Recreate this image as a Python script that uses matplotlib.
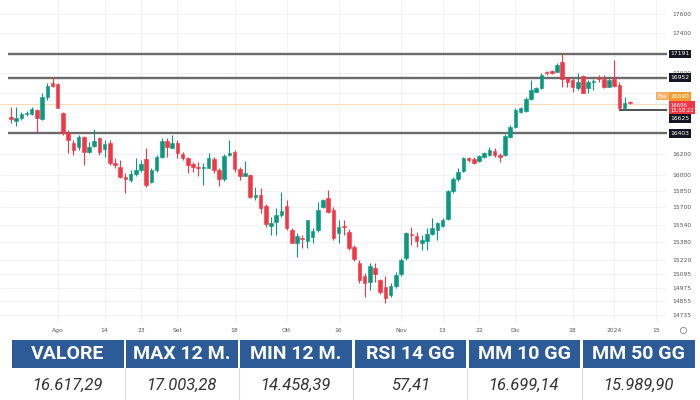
import numpy as np
import matplotlib.pyplot as plt
from matplotlib.patches import Rectangle
from matplotlib.lines import Line2D
from matplotlib.ticker import NullLocator
from matplotlib.transforms import blended_transform_factory

# candele giornaliere (indice di seduta)
opens = [16564, 16525, 16549, 16588, 16588, 16630, 16542, 16756, 16895, 16885,
         16604, 16403, 16312, 16268, 16370, 16226, 16280, 16354, 16249, 16312,
         16121, 16083, 15988, 15957, 16014, 16052, 16154, 15941, 16052, 16175,
         16328, 16264, 16312, 16201, 16169, 16109, 16083, 16068, 16074, 16157,
         16052, 15964, 16194, 16226, 16059, 15998, 16005, 15801, 15816, 15714,
         15530, 15569, 15631, 15714, 15493, 15377, 15418, 15393, 15429, 15493,
         15700, 15784, 15680, 15463, 15533, 15477, 15339, 15192, 15076, 15028,
         15147, 15043, 14983, 14910, 14987, 15092, 15239, 15457, 15441, 15372,
         15393, 15452, 15493, 15527, 15592, 15856, 15964, 16045, 16163, 16154,
         16140, 16175, 16194, 16235, 16194, 16194, 16370, 16461, 16613, 16623,
         16736, 16811, 16845, 17011, 17021, 17011, 17111, 16945, 16928, 16845,
         16968, 16851, 16908, 16945, 16938, 16861, 16935, 16878, 16647, 16712]
highs = [16663, 16660, 16613, 16620, 16663, 16640, 16795, 16895, 16955, 16895,
         16613, 16435, 16338, 16387, 16377, 16322, 16442, 16370, 16338, 16338,
         16163, 16147, 16021, 16052, 16163, 16147, 16258, 16068, 16194, 16357,
         16357, 16387, 16338, 16226, 16178, 16131, 16131, 16116, 16211, 16178,
         16068, 16201, 16338, 16242, 16083, 16138, 16011, 15894, 15885, 15730,
         15615, 15696, 15844, 15770, 15509, 15466, 15448, 15585, 15509, 15754,
         15777, 15860, 15708, 15585, 15585, 15499, 15357, 15221, 15103, 15192,
         15192, 15049, 15073, 15014, 15117, 15236, 15477, 15518, 15477, 15448,
         15509, 15601, 15569, 15601, 15863, 15988, 16068, 16173, 16178, 16175,
         16194, 16223, 16271, 16261, 16211, 16396, 16483, 16647, 16663, 16754,
         16928, 16861, 16995, 17021, 17031, 17095, 17194, 16961, 16945, 17001,
         16978, 16928, 16935, 16978, 16978, 16945, 17128, 16911, 16762, 16721]
lows = [16500, 16474, 16532, 16571, 16581, 16419, 16532, 16729, 16861, 16647,
        16387, 16213, 16194, 16242, 16100, 16211, 16274, 16194, 16178, 16100,
        16068, 15973, 15838, 15941, 15995, 16036, 15894, 15926, 16036, 16163,
        16178, 16258, 16163, 16147, 16021, 16030, 15995, 15910, 16068, 16021,
        15903, 15948, 16188, 16036, 15957, 15995, 15791, 15770, 15647, 15523,
        15448, 15448, 15615, 15493, 15372, 15243, 15327, 15327, 15372, 15477,
        15692, 15647, 15402, 15375, 15448, 15311, 15215, 15019, 14895, 14954,
        15028, 14919, 14840, 14895, 14972, 15073, 15221, 15357, 15336, 15311,
        15311, 15448, 15402, 15518, 15585, 15838, 15950, 16033, 16131, 16109,
        16131, 16166, 16185, 16171, 16131, 16185, 16362, 16451, 16605, 16613,
        16729, 16803, 16838, 16978, 16988, 17003, 16861, 16861, 16811, 16828,
        16795, 16795, 16828, 16911, 16845, 16853, 16858, 16625, 16630, 16692]
closes = [16542, 16555, 16591, 16604, 16643, 16549, 16762, 16871, 16871, 16653,
          16403, 16338, 16242, 16370, 16226, 16274, 16328, 16226, 16300, 16116,
          16102, 15982, 15964, 16014, 16052, 16106, 15910, 16052, 16173, 16328,
          16274, 16306, 16211, 16163, 16100, 16078, 16068, 16078, 16169, 16052,
          15964, 16188, 16211, 16059, 15998, 16021, 15801, 15816, 15696, 15545,
          15560, 15631, 15671, 15509, 15375, 15438, 15409, 15580, 15484, 15680,
          15770, 15659, 15418, 15521, 15521, 15327, 15233, 15043, 15019, 15170,
          15092, 14939, 14881, 14990, 15090, 15221, 15463, 15443, 15396, 15402,
          15452, 15511, 15555, 15585, 15852, 15964, 16036, 16163, 16147, 16121,
          16182, 16211, 16242, 16194, 16173, 16377, 16461, 16630, 16647, 16736,
          16828, 16845, 16978, 16995, 16995, 17078, 16935, 16911, 16861, 16911,
          16801, 16911, 16913, 16935, 16861, 16928, 16868, 16647, 16702, 16696]

tick_idx = [9, 18, 25, 32, 43, 53, 63, 75, 83, 90, 97, 108, 116, 124]
tick_lab = ['Ago', '14', '23', 'Set', '18', 'Ott', '16', 'Nov', '13', '22', 'Dic', '18', '2024', '15']
price_ticks = [17600, 17400, 17000, 16800, 16200, 16000, 15850, 15700, 15540,
               15380, 15220, 15095, 14975, 14855, 14735]
hidden_ticks = [16800]   # coperto dall'etichetta arancione
levels = [17191, 16952, 16403]
last_low = 16625
ref_price = 16690

headers = ['VALORE', 'MAX 12 M.', 'MIN 12 M.', 'RSI 14 GG', 'MM 10 GG', 'MM 50 GG']
values = ['16.617,29', '17.003,28', '14.458,39', '57,41', '16.699,14', '15.989,90']

GREEN = '#089981'
RED = '#f23645'

fig = plt.figure(figsize=(7, 4), dpi=100)
W, H = 700, 400
ax = fig.add_axes([0, 1 - 322 / H, 667 / W, 322 / H])

o = np.array(opens); c = np.array(closes)
h = np.array(highs); l = np.array(lows)
x = np.arange(len(o))
col = np.where(c >= o, GREEN, RED)

ax.vlines(x, l, h, colors=col, lw=0.8, zorder=3)
ax.bar(x, np.abs(c - o), bottom=np.minimum(o, c), width=0.68, color=col,
       edgecolor=col, linewidth=0.4, zorder=4)

ax.set_yscale('log')
ax.set_ylim(14673, 17746)
ax.set_xlim(-2.1, 126.15)

# livelli
for lv in levels:
    ax.hlines(lv, -0.6, 126.15, color='#6b6b6b', lw=1.7, zorder=2)
ax.hlines(last_low, 117, 126.15, color='#222222', lw=1.1, zorder=2)
ax.axhline(ref_price, color='#f5a650', lw=0.5, alpha=0.6, zorder=1)

ax.yaxis.set_minor_locator(NullLocator())
ax.set_yticks(price_ticks)
ax.set_yticklabels(['' if v in hidden_ticks else str(v) for v in price_ticks])
ax.yaxis.tick_right()
ax.set_xticks(tick_idx)
ax.set_xticklabels(tick_lab)
ax.tick_params(axis='both', length=0, labelsize=4.3, labelcolor='#555555')
ax.tick_params(axis='y', pad=4)
ax.tick_params(axis='x', pad=4)
ax.grid(color='#eef0f5', lw=0.6, zorder=0)
for s in ax.spines.values():
    s.set_visible(False)

# etichette di prezzo a destra (spostate per non sovrapporsi, come sul grafico)
tr = blended_transform_factory(ax.transAxes, ax.transData)
box = dict(boxstyle='square,pad=0.3', fc='#131722', ec='none')
for lv in levels:
    ax.text(1.005, lv, str(lv), transform=tr, ha='left', va='center', fontsize=4.3,
            color='white', bbox=box, clip_on=False, zorder=10)
ax.text(1.005, last_low * 0.9953, str(last_low), transform=tr, ha='left', va='center',
        fontsize=4.3, color='white', bbox=box, clip_on=False, zorder=10)
ax.text(0.986, ref_price * 1.0045, 'Ese', transform=tr, ha='left', va='center',
        fontsize=4.0, color='white',
        bbox=dict(boxstyle='square,pad=0.3', fc='#f7b267', ec='none'), clip_on=False, zorder=10)
ax.text(1.005, ref_price * 1.0045, str(ref_price), transform=tr, ha='left', va='center',
        fontsize=4.3, color='white',
        bbox=dict(boxstyle='square,pad=0.3', fc='#f39c33', ec='none'), clip_on=False, zorder=10)
ax.text(1.005, ref_price * 0.9977, f'{closes[-1]}\n15:58:22', transform=tr, ha='left',
        va='center', fontsize=3.8, color='white', linespacing=1.05,
        bbox=dict(boxstyle='square,pad=0.25', fc=RED, ec='none'), clip_on=False, zorder=11)

fig.add_artist(Line2D([683 / W], [1 - 330 / H], marker='o', ms=4.5, mfc='none', mec='#888888',
                      mew=0.6, transform=fig.transFigure))

# tabella
top, mid, bot = 340, 368, 400
for k, (hd, vl) in enumerate(zip(headers, values)):
    x0 = 12 + k * 114.2
    wd = 111.5
    fig.add_artist(Rectangle((x0 / W, 1 - mid / H), wd / W, (mid - top) / H,
                             transform=fig.transFigure, fc='#2d5b98', ec='none'))
    fig.text((x0 + wd / 2) / W, 1 - (top + mid) / 2 / H, hd, ha='center', va='center',
             fontsize=14, fontweight='bold', color='white', family='Roboto')
    fig.text((x0 + wd / 2) / W, 1 - 385 / H, vl, ha='center', va='center',
             fontsize=12, style='italic', color='#333333', family='Roboto')
    if k > 0:
        fig.add_artist(Line2D([(x0 - 1.4) / W] * 2, [1 - mid / H, 0], color='#dddddd',
                              lw=0.8, transform=fig.transFigure))

fig.savefig('out.png', dpi=100, facecolor='white')
